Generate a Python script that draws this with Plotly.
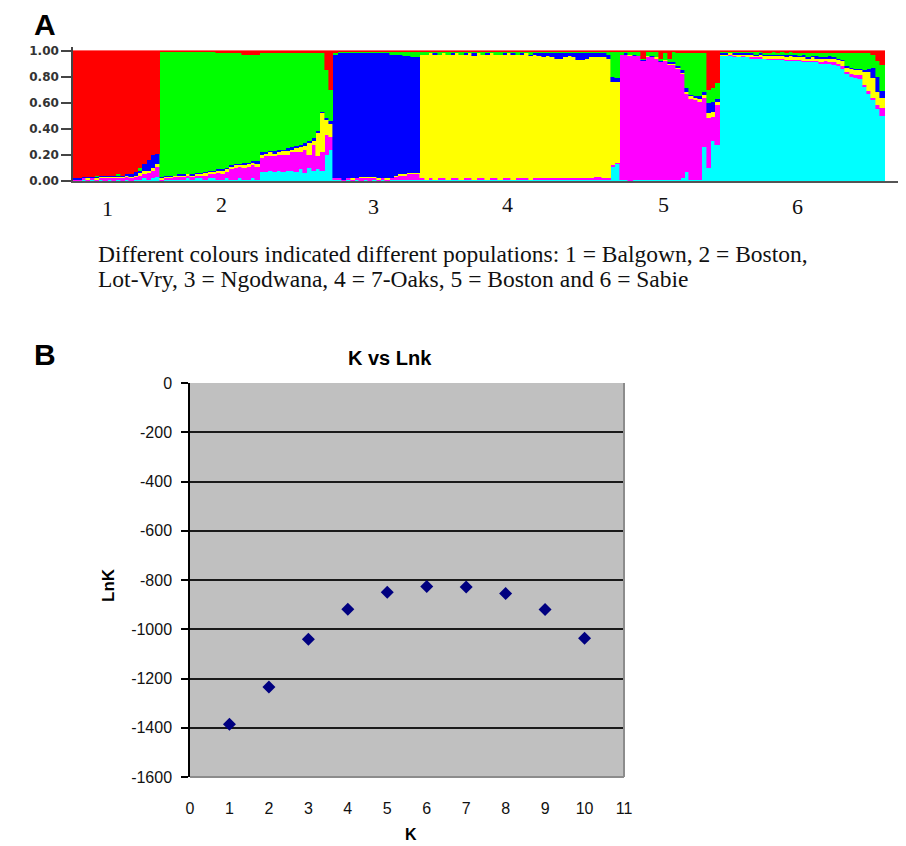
import numpy as np
import plotly.graph_objects as go

W, H = 906, 846
OFF = 8  # page body margin of the browser: target pixel -> figure pixel offset

# ---------------- Panel A data: STRUCTURE Q-matrix (percent) ----------------
# Column order = stacking order bottom -> top: cyan, magenta, yellow, blue, green, red
CLUSTER_NAMES = ["cyan", "magenta", "yellow", "blue", "green", "red"]
CLUSTER_COLORS = ["#00FFFF", "#FF00FF", "#FFFF00", "#0000FF", "#00FF00", "#FF0000"]
POP_LABELS = ["1", "2", "3", "4", "5", "6"]

POP1 = [
    (0, 1, 0, 1, 0, 98), (0, 1, 0, 1, 0, 98), (1, 1, 0, 1, 0, 97), (0, 1, 1, 1, 0, 97),
    (1, 1, 0, 1, 0, 97), (0, 1, 1, 1, 1, 96), (1, 1, 1, 1, 0, 96), (0, 2, 1, 1, 0, 96),
    (1, 1, 1, 1, 0, 96), (0, 2, 1, 1, 0, 96), (1, 1, 1, 1, 1, 95), (0, 2, 1, 1, 0, 96),
    (1, 2, 1, 1, 0, 95), (0, 2, 1, 2, 0, 95), (1, 2, 1, 3, 0, 93), (1, 3, 2, 2, 2, 90),
    (2, 3, 3, 5, 0, 87), (1, 5, 2, 8, 0, 84), (2, 6, 2, 10, 0, 80), (3, 8, 2, 8, 0, 79),
]
POP2 = [
    (0, 1, 1, 1, 96, 1), (1, 1, 1, 1, 95, 1), (1, 1, 1, 1, 95, 1), (1, 2, 1, 0, 95, 1),
    (1, 2, 1, 1, 94, 1), (1, 2, 1, 1, 94, 1), (2, 2, 1, 0, 94, 1), (1, 2, 1, 1, 94, 1),
    (2, 2, 1, 1, 93, 1), (2, 2, 1, 1, 93, 1), (1, 3, 2, 1, 92, 1), (2, 3, 2, 1, 91, 1),
    (2, 3, 2, 1, 91, 1), (1, 5, 2, 1, 89, 2), (1, 4, 3, 1, 89, 2), (2, 5, 2, 1, 88, 2),
    (1, 8, 2, 1, 86, 2), (1, 9, 2, 1, 85, 2), (2, 9, 1, 1, 85, 2), (1, 9, 2, 2, 83, 3),
    (1, 10, 2, 1, 83, 3), (2, 10, 2, 1, 82, 3), (1, 10, 2, 2, 82, 3), (7, 11, 2, 2, 76, 2),
    (7, 12, 2, 1, 76, 2), (8, 11, 3, 1, 75, 2), (7, 12, 2, 2, 75, 2), (8, 12, 2, 2, 74, 2),
    (7, 13, 3, 1, 74, 2), (8, 12, 3, 2, 73, 2), (8, 14, 2, 2, 72, 2), (7, 15, 3, 2, 71, 2),
    (9, 13, 4, 2, 70, 2), (6, 18, 3, 2, 69, 2), (10, 10, 9, 2, 67, 2), (8, 20, 3, 2, 65, 2),
    (9, 10, 18, 1, 60, 2), (8, 14, 30, 1, 45, 2), (20, 15, 12, 1, 37, 15), (24, 10, 10, 2, 24, 30),
]
POP3 = [
    (1, 1, 0, 95, 1, 2), (1, 1, 0, 96, 1, 1), (0, 1, 0, 97, 1, 1), (1, 1, 0, 96, 1, 1),
    (0, 1, 1, 96, 1, 1), (1, 1, 0, 96, 1, 1), (0, 2, 1, 95, 1, 1), (1, 1, 1, 95, 1, 1),
    (0, 2, 1, 95, 1, 1), (1, 1, 1, 95, 1, 1), (0, 1, 1, 96, 1, 1), (1, 1, 0, 96, 1, 1),
    (0, 1, 1, 96, 1, 1), (1, 1, 0, 95, 2, 1), (1, 2, 1, 93, 2, 1), (1, 3, 1, 92, 2, 1),
    (1, 3, 1, 91, 3, 1), (1, 4, 1, 90, 3, 1), (1, 4, 1, 89, 4, 1), (1, 4, 1, 89, 4, 1),
]
POP4 = [
    (1, 1, 95, 0, 2, 1), (1, 0, 96, 0, 2, 1), (1, 1, 96, 0, 1, 1), (1, 0, 96, 1, 1, 1),
    (1, 1, 95, 0, 2, 1), (1, 1, 96, 0, 1, 1), (1, 0, 96, 0, 2, 1), (1, 1, 95, 1, 1, 1),
    (1, 1, 96, 0, 1, 1), (1, 0, 96, 0, 2, 1), (1, 1, 95, 1, 1, 1), (1, 1, 96, 0, 1, 1),
    (1, 0, 95, 2, 1, 1), (1, 1, 96, 0, 1, 1), (1, 1, 95, 0, 2, 1), (1, 0, 96, 1, 1, 1),
    (1, 1, 96, 0, 1, 1), (1, 1, 95, 0, 2, 1), (1, 0, 96, 0, 2, 1), (1, 1, 95, 1, 1, 1),
    (1, 1, 96, 0, 1, 1), (1, 0, 96, 1, 1, 1), (1, 1, 95, 0, 2, 1), (1, 1, 95, 1, 1, 1),
    (1, 1, 96, 0, 1, 1), (1, 0, 95, 1, 2, 1), (1, 1, 95, 1, 1, 1), (1, 1, 94, 2, 1, 1),
    (1, 1, 93, 3, 1, 1), (1, 1, 94, 2, 1, 1), (1, 1, 93, 3, 1, 1), (1, 1, 92, 4, 1, 1),
    (1, 1, 92, 4, 1, 1), (1, 1, 93, 3, 1, 1), (1, 1, 94, 2, 1, 1), (1, 1, 93, 3, 1, 1),
    (1, 1, 91, 5, 1, 1), (1, 1, 91, 5, 1, 1), (1, 1, 92, 4, 1, 1), (1, 1, 93, 3, 1, 1),
    (1, 2, 92, 3, 1, 1), (1, 2, 92, 3, 1, 1), (1, 1, 93, 3, 1, 1), (1, 1, 92, 3, 2, 1),
    (11, 1, 64, 4, 19, 1), (13, 1, 62, 3, 20, 1),
]
POP5 = [
    (1, 96, 0, 0, 2, 1), (1, 96, 0, 1, 1, 1), (0, 96, 1, 0, 2, 1), (1, 95, 0, 1, 2, 1),
    (1, 95, 0, 0, 3, 1), (1, 91, 0, 1, 1, 6), (1, 94, 1, 0, 3, 1), (1, 94, 0, 1, 3, 1),
    (1, 93, 1, 0, 4, 1), (1, 90, 0, 1, 2, 6), (1, 91, 1, 0, 5, 2), (1, 88, 1, 1, 3, 6),
    (1, 88, 1, 1, 8, 1), (1, 85, 1, 1, 10, 2), (2, 80, 1, 2, 13, 2), (7, 60, 1, 3, 27, 2),
    (1, 62, 2, 1, 32, 2), (1, 61, 2, 1, 33, 2), (1, 60, 2, 2, 33, 2), (26, 38, 2, 2, 30, 2),
    (10, 38, 4, 8, 10, 30), (31, 18, 4, 8, 10, 29), (28, 30, 3, 2, 12, 25),
]
POP6 = [
    (96, 0, 1, 1, 1, 1), (96, 0, 1, 1, 1, 1), (96, 1, 1, 0, 1, 1), (95, 1, 1, 1, 1, 1),
    (95, 0, 2, 1, 1, 1), (95, 1, 1, 1, 1, 1), (95, 0, 2, 1, 1, 1), (94, 1, 2, 1, 1, 1),
    (94, 1, 1, 1, 2, 1), (94, 1, 2, 1, 1, 1), (94, 0, 2, 1, 1, 2), (93, 1, 2, 1, 1, 2),
    (93, 1, 2, 1, 2, 1), (93, 1, 2, 1, 1, 2), (93, 1, 2, 1, 2, 1), (92, 1, 2, 2, 1, 2),
    (92, 1, 3, 1, 2, 1), (92, 1, 2, 2, 1, 2), (92, 1, 2, 1, 2, 2), (91, 1, 3, 2, 1, 2),
    (91, 1, 2, 1, 3, 2), (91, 1, 3, 1, 2, 2), (91, 1, 2, 2, 2, 2), (90, 1, 3, 1, 3, 2),
    (90, 2, 2, 1, 3, 2), (90, 1, 3, 2, 2, 2), (89, 2, 3, 1, 3, 2), (88, 2, 3, 1, 4, 2),
    (86, 2, 4, 1, 5, 2), (82, 2, 3, 1, 10, 2), (80, 2, 4, 1, 11, 2), (79, 2, 4, 1, 12, 2),
    (78, 3, 4, 1, 12, 2), (72, 2, 10, 1, 13, 2), (67, 2, 15, 2, 12, 2), (62, 2, 15, 8, 10, 3),
    (55, 3, 10, 12, 12, 8), (50, 6, 8, 5, 20, 11),
]
POPULATIONS = [POP1, POP2, POP3, POP4, POP5, POP6]

Q_TICKS = [0.0, 0.2, 0.4, 0.6, 0.8, 1.0]
Q_TICKTEXT = ["0.00", "0.20", "0.40", "0.60", "0.80", "1.00"]

CAPTION_1 = "Different colours indicated different populations: 1 = Balgown, 2 = Boston,"
CAPTION_2 = "Lot-Vry, 3 = Ngodwana, 4 = 7-Oaks, 5 = Boston and 6 = Sabie"

# ---------------- Panel B data ----------------
K_VALUES = [1, 2, 3, 4, 5, 6, 7, 8, 9, 10]
LNK_VALUES = [-1386, -1235, -1041, -919, -850, -826, -828, -855, -920, -1037]
K_TICKS = list(range(0, 12))
LNK_TICKS = list(range(-1600, 1, 200))
LNK_TICKTEXT = [str(v) for v in LNK_TICKS]


def px(x):
    return (x - OFF) / W


def py(y):
    return 1 - (y - OFF) / H


fig = go.Figure()

# ---- Panel A: stacked admixture bars ----
Q = np.array([row for pop in POPULATIONS for row in pop], dtype=float)
Q = Q / Q.sum(axis=1, keepdims=True)
N = Q.shape[0]
idx = np.arange(N)
for c, (name, color) in enumerate(zip(CLUSTER_NAMES, CLUSTER_COLORS)):
    fig.add_trace(go.Bar(
        x=idx, y=Q[:, c], name=name, width=1.0,
        marker=dict(color=color, line=dict(color=color, width=0.6)),
        xaxis="x", yaxis="y", showlegend=False, hoverinfo="skip",
    ))

A_LEFT, A_BAR_RIGHT, A_AXIS_RIGHT = 73, 884.5, W + OFF
A_TOP_AXIS, A_Y1, A_Y0 = 47.0, 50.7, 181.0
units_per_px = N / (A_BAR_RIGHT - A_LEFT)
x_max = -0.5 + (A_AXIS_RIGHT - A_LEFT) * units_per_px
y_top = 1.0 + (A_Y1 - A_TOP_AXIS) / (A_Y0 - A_Y1)

# ---- Panel B: scatter ----
fig.add_trace(go.Scatter(
    x=K_VALUES, y=LNK_VALUES, mode="markers",
    marker=dict(symbol="diamond", size=10, color="#000080"),
    xaxis="x2", yaxis="y2", showlegend=False,
))

B_L, B_R, B_T, B_B = 190, 624, 383, 777
sans = "Liberation Sans, Arial, sans-serif"
serif = "Liberation Serif, Times New Roman, serif"

fig.update_layout(
    width=W, height=H, autosize=False,
    margin=dict(l=0, r=0, t=0, b=0, pad=0, autoexpand=False),
    paper_bgcolor="white", plot_bgcolor="white",
    barmode="stack", bargap=0,
    xaxis=dict(domain=[px(A_LEFT), min(1.0, px(A_AXIS_RIGHT))], range=[-0.5, x_max],
               anchor="y", showline=True, linecolor="#555555", linewidth=1.5,
               showticklabels=False, ticks="", showgrid=False, zeroline=False,
               automargin=False, fixedrange=True),
    yaxis=dict(domain=[py(A_Y0), py(A_TOP_AXIS)], range=[0, y_top], anchor="x",
               tickvals=Q_TICKS, ticktext=Q_TICKTEXT, ticks="outside", ticklen=10,
               tickwidth=1.5, tickcolor="#444444", showline=True, linecolor="#444444",
               linewidth=1.5, showgrid=False, zeroline=False, automargin=False,
               tickfont=dict(family="DejaVu Sans, sans-serif", size=12, color="#333333",
                             weight="bold")),
    xaxis2=dict(domain=[px(B_L), px(B_R)], range=[0, 11], anchor="y2",
                tickvals=K_TICKS, ticks="", showline=False, showgrid=False,
                zeroline=False, ticklabelstandoff=20, automargin=False,
                tickfont=dict(family=sans, size=16, color="#111111")),
    xaxis3=dict(overlaying="x2", anchor="y2", side="top", range=[0, 11],
                tickvals=K_TICKS[1:-1], ticks="inside", ticklen=7, tickwidth=1.5,
                tickcolor="black", showticklabels=False, showline=True,
                linecolor="black", linewidth=1.5, showgrid=False, zeroline=False,
                automargin=False),
    yaxis2=dict(domain=[py(B_B), py(B_T)], range=[-1600, 0], anchor="x2",
                tickvals=LNK_TICKS, ticktext=LNK_TICKTEXT, ticks="outside", ticklen=7,
                tickwidth=1.5, tickcolor="black", showline=True, linecolor="black",
                linewidth=1.5, showgrid=True, gridcolor="#1a1a1a", gridwidth=1.5,
                zeroline=False, ticklabelstandoff=6, automargin=False,
                tickfont=dict(family=sans, size=16, color="#111111")),
)

fig.add_shape(type="rect", xref="x2 domain", yref="y2 domain", x0=0, x1=1, y0=0, y1=1,
              fillcolor="#C0C0C0", line=dict(width=0), layer="below")
fig.add_shape(type="line", xref="x2 domain", yref="y2 domain", x0=0, x1=1, y0=0, y1=0,
              line=dict(color="#8c8c8c", width=2), layer="above")
fig.add_shape(type="line", xref="x2 domain", yref="y2 domain", x0=1, x1=1, y0=0, y1=1,
              line=dict(color="#8c8c8c", width=2), layer="above")


def label(text, x, y, size, family, xanchor="center", angle=0, color="#111111"):
    return dict(text=text, x=px(x), y=py(y), xref="paper", yref="paper",
                xanchor=xanchor, yanchor="middle", textangle=angle, showarrow=False,
                font=dict(family=family, size=size, color=color))


annotations = [
    label("<b>A</b>", 45, 24, 30, sans, color="black"),
    label("<b>B</b>", 45, 354, 30, sans, color="black"),
]
pop_label_pos = [(107, 209), (221, 204), (373, 206), (507, 204), (663, 204), (797, 206)]
for lab, (lx, ly) in zip(POP_LABELS, pop_label_pos):
    annotations.append(label(lab, lx, ly, 22, serif))
annotations.append(label(CAPTION_1, 96, 254, 23.5, serif, xanchor="left"))
annotations.append(label(CAPTION_2, 96, 279, 23.5, serif, xanchor="left"))
annotations.append(label("<b>K vs Lnk</b>", 390, 358, 20, sans, color="black"))
annotations.append(label("<b>LnK</b>", 108, 585, 17, sans, angle=-90, color="black"))
annotations.append(label("<b>K</b>", 411, 834, 16, sans, color="black"))
fig.update_layout(annotations=annotations)

fig.write_html("out.html")
